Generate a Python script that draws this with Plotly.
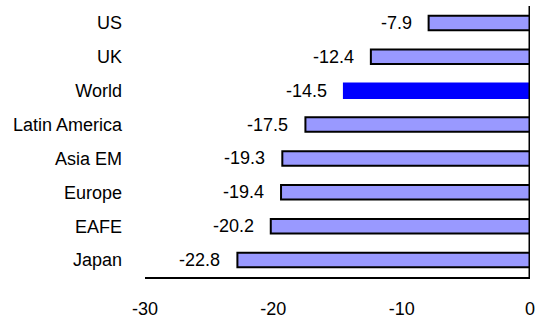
import plotly.graph_objects as go

categories = ["US", "UK", "World", "Latin America", "Asia EM", "Europe", "EAFE", "Japan"]
values = [-7.9, -12.4, -14.5, -17.5, -19.3, -19.4, -20.2, -22.8]
tick_vals = [-30, -20, -10, 0]
tick_text = ["-30", "-20", "-10", "0"]

light = "#9999FF"
dark = "#0000FF"
fill = [dark if c == "World" else light for c in categories]
edge = [dark if c == "World" else "#000000" for c in categories]

font = dict(family="Liberation Sans, Arial, sans-serif", size=18, color="#000000")

fig = go.Figure()
fig.add_trace(go.Bar(
    x=values, y=categories, orientation="h",
    marker=dict(color=fill, line=dict(color=edge, width=2)),
    hoverinfo="skip",
))

for c, v in zip(categories, values):
    fig.add_annotation(x=v, y=c, text=f"{v:.1f}", showarrow=False,
                       xanchor="right", yanchor="middle", xshift=-15, font=font)

# vertical axis line at x = 0
fig.add_shape(type="line", xref="x", yref="paper", x0=0, x1=0, y0=0, y1=1,
              line=dict(color="black", width=3), layer="above")

fig.update_layout(
    width=535, height=321,
    margin=dict(l=145, r=5, t=6, b=44, autoexpand=False),
    paper_bgcolor="white", plot_bgcolor="white",
    showlegend=False, bargap=0.57, font=font,
    xaxis=dict(range=[-30, 0], tickvals=tick_vals, ticktext=tick_text,
               showgrid=False, showline=True, linecolor="black", linewidth=2,
               zeroline=False, automargin=False, ticklabeloverflow="allow",
               ticks="", ticklabelstandoff=14, tickfont=font),
    yaxis=dict(autorange="reversed", showgrid=False, showline=False,
               zeroline=False, automargin=False, ticks="",
               ticklabelstandoff=22, tickfont=font),
)

fig.write_html("out.html", config={"displayModeBar": False, "staticPlot": True},
               post_script="document.body.style.margin='0';document.body.style.overflow='hidden';")
